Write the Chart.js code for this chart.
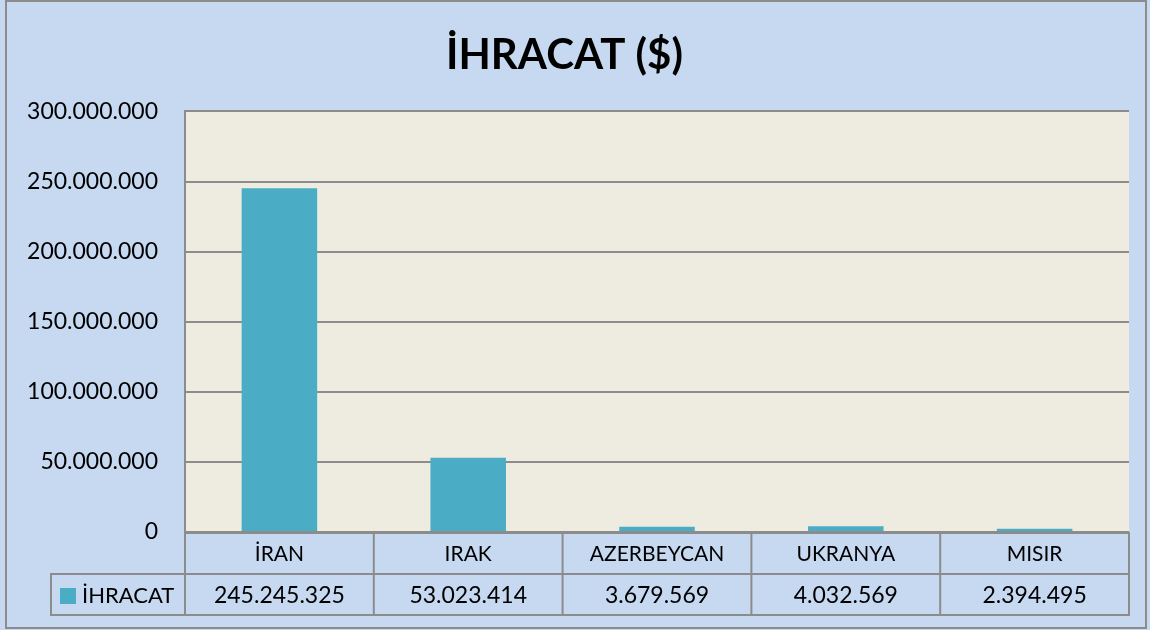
<!DOCTYPE html>
<html>
<head>
<meta charset="utf-8">
<script src="https://cdn.jsdelivr.net/npm/chart.js@4"></script>
<style>
  body { margin: 0; background: #c6d9f1; }
  #wrap { width: 1150px; height: 630px; position: relative; }
</style>
</head>
<body>
<div id="wrap"><canvas id="chart" width="1150" height="630"></canvas></div>
<script>
const categories = ['İRAN', 'IRAK', 'AZERBEYCAN', 'UKRANYA', 'MISIR'];
const seriesName = 'İHRACAT';
const exportValues = [245245325, 53023414, 3679569, 4032569, 2394495];
const yTicks = [0, 50000000, 100000000, 150000000, 200000000, 250000000, 300000000];

const FONT = 'Lato, "Open Sans", sans-serif';
const GRID = '#8c8c8c';
const BAR = '#4bacc6';

function dotted(n) {
  return String(n).replace(/\B(?=(\d{3})+(?!\d))/g, '.');
}

// background, plot area and outer frame
const backdrop = {
  id: 'backdrop',
  beforeDraw(chart) {
    const { ctx, chartArea: a } = chart;
    ctx.save();
    ctx.fillStyle = '#c6d9f1';
    ctx.fillRect(0, 0, chart.width, chart.height);
    ctx.fillStyle = '#eeece1';
    ctx.fillRect(a.left, a.top, a.right - a.left, a.bottom - a.top);
    ctx.strokeStyle = GRID;
    ctx.lineWidth = 2;
    ctx.strokeRect(6, 1, chart.width - 10, chart.height - 3);
    ctx.restore();
  }
};

// data table under the plot
const dataTable = {
  id: 'dataTable',
  afterDraw(chart) {
    const { ctx, chartArea: a, scales } = chart;
    const x = scales.x;
    const rowH = 41;
    const top = a.bottom + 1;
    const legendLeft = 51;
    const step = (a.right - a.left) / categories.length;
    ctx.save();
    ctx.strokeStyle = GRID;
    ctx.lineWidth = 2;
    ctx.strokeRect(a.left, top, a.right - a.left, rowH);
    ctx.strokeRect(legendLeft, top + rowH, a.right - legendLeft, rowH);
    ctx.beginPath();
    for (let i = 0; i <= categories.length; i++) {
      const xx = a.left + i * step;
      ctx.moveTo(xx, top);
      ctx.lineTo(xx, top + 2 * rowH);
    }
    ctx.stroke();
    ctx.fillStyle = '#000';
    ctx.textAlign = 'center';
    ctx.textBaseline = 'middle';
    categories.forEach((c, i) => {
      const cx = x.getPixelForValue(i);
      ctx.font = '21px ' + FONT;
      ctx.fillText(c, cx, top + rowH / 2 + 1);
      ctx.font = '23px ' + FONT;
      ctx.fillText(dotted(exportValues[i]), cx, top + rowH * 1.5 + 1);
    });
    // legend key
    ctx.fillStyle = BAR;
    ctx.fillRect(60, top + rowH + 14, 16, 16);
    ctx.fillStyle = '#000';
    ctx.textAlign = 'left';
    ctx.font = '22px ' + FONT;
    ctx.fillText(seriesName, 82, top + rowH * 1.5 + 1);
    ctx.restore();
  }
};

new Chart(document.getElementById('chart'), {
  type: 'bar',
  data: {
    labels: categories,
    datasets: [{
      label: seriesName,
      data: exportValues,
      backgroundColor: BAR,
      barPercentage: 0.4,
      categoryPercentage: 1
    }]
  },
  options: {
    responsive: false,
    animation: false,
    layout: { padding: { left: 0, right: 21, bottom: 98 } },
    plugins: {
      legend: { display: false },
      tooltip: { enabled: false },
      title: {
        display: true,
        text: 'İHRACAT ($)',
        color: '#000',
        font: { family: FONT, size: 42, weight: 'bold' },
        padding: { top: 30, bottom: 31 }
      }
    },
    scales: {
      x: { display: false },
      y: {
        min: 0,
        max: 300000000,
        afterBuildTicks(scale) { scale.ticks = yTicks.map(v => ({ value: v })); },
        afterFit(scale) { scale.width = 185; },
        border: { display: true, color: GRID, width: 2 },
        grid: { color: GRID, lineWidth: 2, drawTicks: false },
        ticks: {
          color: '#000',
          padding: 27,
          font: { family: FONT, size: 23 },
          callback: v => dotted(v)
        }
      }
    }
  },
  plugins: [backdrop, dataTable]
});
</script>
</body>
</html>
